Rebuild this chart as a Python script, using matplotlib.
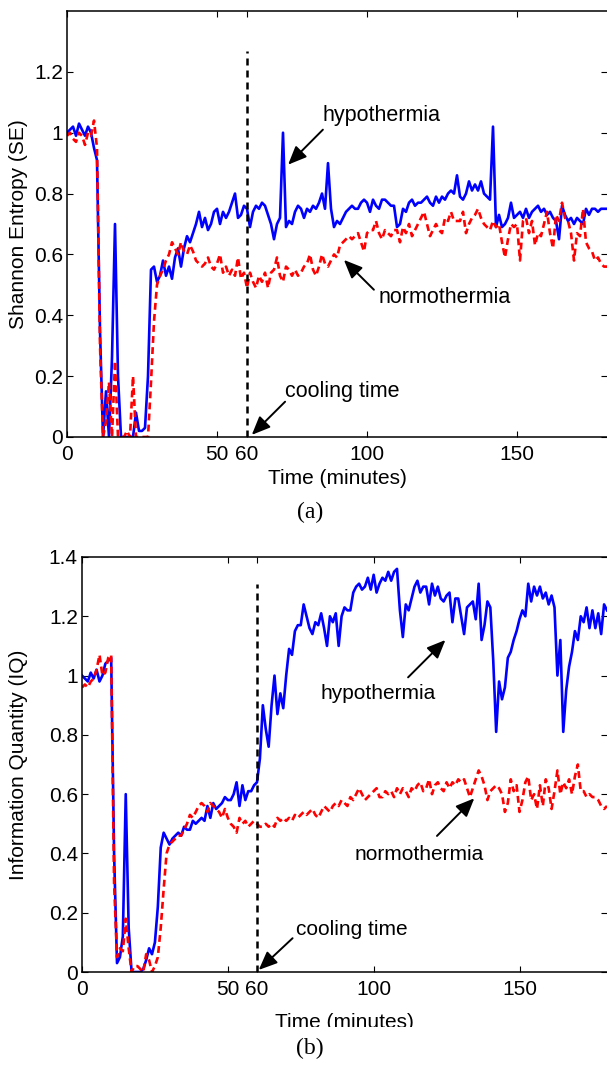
import numpy as np
import matplotlib
matplotlib.use('Agg')
import matplotlib.pyplot as plt
from matplotlib.ticker import FuncFormatter
from matplotlib.patches import Rectangle

# ---------------- data ----------------
minutes = np.arange(0, 181)

se_hypothermia = [
    1.00, 1.01, 1.02, 0.99, 1.03, 1.01, 0.99, 1.02, 1.00, 0.95, 0.91,
    0.35, 0.00, 0.15, 0.00, 0.26, 0.70, 0.20, 0.00, 0.00, 0.00,
    0.00, 0.00, 0.08, 0.02, 0.02, 0.03, 0.20, 0.55, 0.56, 0.51,
    0.53, 0.58, 0.53, 0.56, 0.52, 0.59, 0.62, 0.56, 0.62, 0.66,
    0.64, 0.67, 0.70, 0.74, 0.69, 0.72, 0.68, 0.70, 0.74, 0.75,
    0.70, 0.74, 0.72, 0.74, 0.77, 0.80, 0.72, 0.73, 0.76, 0.75,
    0.69, 0.74, 0.76, 0.75, 0.77, 0.76, 0.73, 0.70, 0.65, 0.70,
    0.72, 1.00, 0.69, 0.71, 0.70, 0.74, 0.76, 0.75, 0.72, 0.75,
    0.74, 0.76, 0.75, 0.77, 0.80, 0.75, 0.90, 0.75, 0.69, 0.71,
    0.70, 0.72, 0.74, 0.75, 0.76, 0.75, 0.75, 0.77, 0.78, 0.77,
    0.74, 0.78, 0.76, 0.75, 0.78, 0.78, 0.77, 0.76, 0.76, 0.69,
    0.70, 0.75, 0.74, 0.77, 0.78, 0.76, 0.77, 0.77, 0.78, 0.79,
    0.77, 0.76, 0.79, 0.77, 0.79, 0.78, 0.80, 0.81, 0.80, 0.86,
    0.79, 0.78, 0.80, 0.84, 0.81, 0.83, 0.81, 0.84, 0.80, 0.79,
    0.78, 1.02, 0.69, 0.73, 0.69, 0.70, 0.72, 0.77, 0.72, 0.73,
    0.74, 0.72, 0.75, 0.72, 0.74, 0.75, 0.76, 0.74, 0.75, 0.73,
    0.74, 0.72, 0.71, 0.65, 0.76, 0.73, 0.71, 0.72, 0.70, 0.72,
    0.71, 0.70, 0.75, 0.73, 0.75, 0.75, 0.74, 0.75, 0.75, 0.75,
]

se_normothermia = [
    0.99, 1.00, 0.98, 0.97, 1.00, 0.99, 0.96, 1.00, 0.99, 1.04, 0.95,
    0.30, 0.00, 0.05, 0.18, 0.00, 0.25, 0.00, 0.00, 0.00, 0.02,
    0.00, 0.20, 0.00, 0.00, 0.00, 0.00, 0.00, 0.18, 0.38, 0.50,
    0.53, 0.55, 0.58, 0.60, 0.64, 0.62, 0.60, 0.64, 0.61, 0.60,
    0.63, 0.61, 0.58, 0.57, 0.56, 0.57, 0.59, 0.56, 0.55, 0.57,
    0.60, 0.54, 0.56, 0.53, 0.55, 0.53, 0.59, 0.52, 0.54, 0.49,
    0.54, 0.51, 0.49, 0.53, 0.51, 0.54, 0.49, 0.54, 0.55, 0.59,
    0.53, 0.51, 0.56, 0.55, 0.53, 0.55, 0.53, 0.54, 0.56, 0.57,
    0.60, 0.55, 0.53, 0.56, 0.60, 0.57, 0.56, 0.58, 0.60, 0.59,
    0.63, 0.64, 0.65, 0.66, 0.65, 0.66, 0.67, 0.64, 0.61, 0.67,
    0.68, 0.68, 0.71, 0.67, 0.65, 0.68, 0.67, 0.66, 0.68, 0.68,
    0.64, 0.69, 0.67, 0.70, 0.66, 0.68, 0.70, 0.72, 0.74, 0.70,
    0.66, 0.68, 0.70, 0.68, 0.67, 0.72, 0.71, 0.74, 0.71, 0.71,
    0.71, 0.74, 0.67, 0.70, 0.72, 0.73, 0.75, 0.72, 0.70, 0.69,
    0.68, 0.71, 0.69, 0.70, 0.64, 0.59, 0.65, 0.70, 0.69, 0.70,
    0.58, 0.71, 0.72, 0.67, 0.71, 0.63, 0.67, 0.66, 0.70, 0.74,
    0.67, 0.62, 0.73, 0.71, 0.77, 0.72, 0.71, 0.67, 0.58, 0.67,
    0.66, 0.75, 0.64, 0.62, 0.61, 0.58, 0.59, 0.57, 0.56, 0.56,
]

iq_hypothermia = [
    1.00, 0.99, 0.98, 1.01, 0.99, 1.02, 0.98, 1.00, 1.04, 1.05, 1.06,
    0.40, 0.03, 0.05, 0.12, 0.60, 0.15, 0.00, 0.00, 0.00, 0.00,
    0.01, 0.04, 0.08, 0.06, 0.10, 0.22, 0.42, 0.47, 0.45, 0.43,
    0.45, 0.46, 0.47, 0.46, 0.49, 0.48, 0.48, 0.51, 0.50, 0.51,
    0.52, 0.51, 0.56, 0.52, 0.57, 0.55, 0.56, 0.57, 0.59, 0.58,
    0.58, 0.60, 0.64, 0.56, 0.63, 0.58, 0.61, 0.61, 0.63, 0.64,
    0.72, 0.90, 0.82, 0.76, 0.90, 1.00, 0.87, 0.94, 0.89, 1.00,
    1.09, 1.07, 1.15, 1.17, 1.17, 1.24, 1.20, 1.16, 1.14, 1.18,
    1.17, 1.21, 1.16, 1.10, 1.20, 1.18, 1.21, 1.10, 1.20, 1.23,
    1.22, 1.22, 1.28, 1.30, 1.31, 1.29, 1.30, 1.33, 1.29, 1.34,
    1.28, 1.31, 1.33, 1.32, 1.35, 1.32, 1.35, 1.36, 1.22, 1.13,
    1.24, 1.22, 1.26, 1.30, 1.32, 1.28, 1.30, 1.30, 1.24, 1.31,
    1.27, 1.30, 1.26, 1.25, 1.27, 1.28, 1.18, 1.26, 1.26, 1.20,
    1.14, 1.23, 1.24, 1.25, 1.19, 1.31, 1.12, 1.17, 1.25, 1.23,
    1.05, 0.81, 0.98, 0.92, 0.96, 1.06, 1.08, 1.12, 1.15, 1.19,
    1.22, 1.20, 1.31, 1.25, 1.30, 1.27, 1.30, 1.26, 1.28, 1.24,
    1.27, 1.23, 1.00, 1.12, 0.81, 0.95, 1.03, 1.08, 1.15, 1.12,
    1.20, 1.18, 1.23, 1.16, 1.22, 1.16, 1.21, 1.14, 1.24, 1.22,
]

iq_normothermia = [
    0.96, 0.97, 0.96, 0.98, 0.99, 1.02, 1.07, 1.00, 1.01, 1.06, 1.07,
    0.30, 0.05, 0.08, 0.07, 0.18, 0.08, 0.00, 0.02, 0.02, 0.01,
    0.00, 0.06, 0.04, 0.00, 0.02, 0.05, 0.15, 0.28, 0.40, 0.43,
    0.44, 0.45, 0.46, 0.46, 0.48, 0.50, 0.53, 0.52, 0.54, 0.56,
    0.57, 0.56, 0.54, 0.57, 0.56, 0.55, 0.54, 0.52, 0.55, 0.52,
    0.50, 0.49, 0.47, 0.52, 0.50, 0.51, 0.49, 0.50, 0.51, 0.50,
    0.49, 0.49, 0.50, 0.49, 0.50, 0.49, 0.52, 0.51, 0.52, 0.51,
    0.52, 0.51, 0.53, 0.52, 0.53, 0.54, 0.53, 0.54, 0.55, 0.53,
    0.52, 0.54, 0.56, 0.55, 0.54, 0.56, 0.57, 0.56, 0.58, 0.57,
    0.56, 0.59, 0.58, 0.60, 0.62, 0.60, 0.58, 0.59, 0.60, 0.61,
    0.62, 0.59, 0.59, 0.61, 0.60, 0.61, 0.59, 0.62, 0.60, 0.62,
    0.61, 0.59, 0.62, 0.61, 0.63, 0.64, 0.61, 0.62, 0.65, 0.60,
    0.63, 0.64, 0.62, 0.61, 0.64, 0.62, 0.64, 0.63, 0.65, 0.64,
    0.65, 0.62, 0.59, 0.62, 0.65, 0.68, 0.66, 0.63, 0.58, 0.61,
    0.62, 0.63, 0.62, 0.60, 0.54, 0.57, 0.65, 0.61, 0.63, 0.54,
    0.58, 0.64, 0.66, 0.58, 0.60, 0.55, 0.63, 0.56, 0.65, 0.62,
    0.55, 0.61, 0.68, 0.60, 0.64, 0.62, 0.65, 0.60, 0.66, 0.70,
    0.61, 0.61, 0.59, 0.60, 0.59, 0.59, 0.58, 0.56, 0.55, 0.56,
]

cooling_time = 60
x_ticks = [0, 50, 60, 100, 150]
se_ticks = [0, 0.2, 0.4, 0.6, 0.8, 1.0, 1.2]
iq_ticks = [0, 0.2, 0.4, 0.6, 0.8, 1.0, 1.2, 1.4]

# ---------------- figure ----------------
plt.rcParams['font.family'] = ['Liberation Sans', 'DejaVu Sans']

W, H = 607, 1065
fig = plt.figure(figsize=(W / 100, H / 100), dpi=100)
ax1 = fig.add_axes([67 / W, 1 - 437 / H, 540 / W, 426 / H])
ax2 = fig.add_axes([82 / W, 1 - 972 / H, 525 / W, 415 / H])

fmt = FuncFormatter(lambda v, p: '%g' % round(v, 2))


def style_axes(ax, yticks, ylabel, fs, ylab_x, xlab_y):
    ax.set_xlim(0, 180)
    ax.set_ylim(0, 1.4)
    ax.set_xticks(x_ticks)
    ax.set_yticks(yticks)
    ax.yaxis.set_major_formatter(fmt)
    ax.xaxis.set_major_formatter(fmt)
    ax.tick_params(direction='in', length=4, width=0.8, top=True, right=True,
                   labelsize=fs, colors='black')
    ax.tick_params(axis='x', pad=6)
    ax.tick_params(axis='y', pad=3)
    for s in ax.spines.values():
        s.set_linewidth(1.1)
    ax.spines['right'].set_visible(False)
    ax.set_ylabel(ylabel, fontsize=fs)
    ax.set_xlabel('Time (minutes)', fontsize=fs)
    ax.yaxis.set_label_coords(ylab_x, 0.5)
    ax.xaxis.set_label_coords(0.5, xlab_y)


lw = 1.9
red_dash = (0, (2.6, 1.6))
black_dash = (0, (2.8, 2.0))
arrow_kw = dict(arrowstyle='-|>,head_length=0.75,head_width=0.32', color='black',
                lw=1.4, mutation_scale=15, shrinkA=0, shrinkB=0)

# ---- (a) Shannon entropy ----
ax1.plot(minutes, se_hypothermia, color='#0000ff', lw=lw, solid_joinstyle='round')
ax1.plot(minutes, se_normothermia, color='#ff0000', lw=lw, linestyle=red_dash)
ax1.vlines(cooling_time, 0, 1.27, colors='black', lw=1.8, linestyles=black_dash)
style_axes(ax1, se_ticks, 'Shannon Entropy (SE)', 15, -0.072, -0.075)

ax1.text(85.3, 1.056, 'hypothermia', fontsize=15.5, ha='left', va='center')
ax1.annotate('', xy=(73.7, 0.895), xytext=(85.3, 1.01), arrowprops=arrow_kw)
ax1.text(104, 0.457, 'normothermia', fontsize=15.5, ha='left', va='center')
ax1.annotate('', xy=(92.3, 0.582), xytext=(102.3, 0.484), arrowprops=arrow_kw)
ax1.text(72.7, 0.151, 'cooling time', fontsize=15.5, ha='left', va='center')
ax1.annotate('', xy=(61.6, 0.007), xytext=(72.7, 0.116), arrowprops=arrow_kw)

# ---- (b) Information quantity ----
ax2.plot(minutes, iq_hypothermia, color='#0000ff', lw=lw, solid_joinstyle='round')
ax2.plot(minutes, iq_normothermia, color='#ff0000', lw=lw, linestyle=red_dash)
ax2.vlines(cooling_time, 0, 1.31, colors='black', lw=1.8, linestyles=black_dash)
style_axes(ax2, iq_ticks, 'Information Quantity (IQ)', 15, -0.103, -0.098)

ax2.text(81.9, 0.94, 'hypothermia', fontsize=15, ha='left', va='center')
ax2.annotate('', xy=(124.6, 1.12), xytext=(111.8, 0.994), arrowprops=arrow_kw)
ax2.text(93.6, 0.395, 'normothermia', fontsize=15, ha='left', va='center')
ax2.annotate('', xy=(134.5, 0.586), xytext=(121.7, 0.459), arrowprops=arrow_kw)
ax2.text(73.4, 0.142, 'cooling time', fontsize=15, ha='left', va='center')
ax2.annotate('', xy=(60.6, 0.007), xytext=(72.2, 0.114), arrowprops=arrow_kw)

# captions
fig.text(310 / W, 1 - 512 / H, '(a)', family=['Liberation Serif', 'DejaVu Serif'],
         fontsize=17, ha='center', va='center')
fig.text(310 / W, 1 - 1048 / H, '(b)', family=['Liberation Serif', 'DejaVu Serif'],
         fontsize=17, ha='center', va='center')

# the reference image cuts off the lower edge of the bottom x-axis title
fig.patches.append(Rectangle((250 / W, 1 - 1035 / H), 200 / W, 8 / H,
                             transform=fig.transFigure, facecolor='white',
                             edgecolor='none', zorder=10))

fig.savefig('out.png', dpi=100)
